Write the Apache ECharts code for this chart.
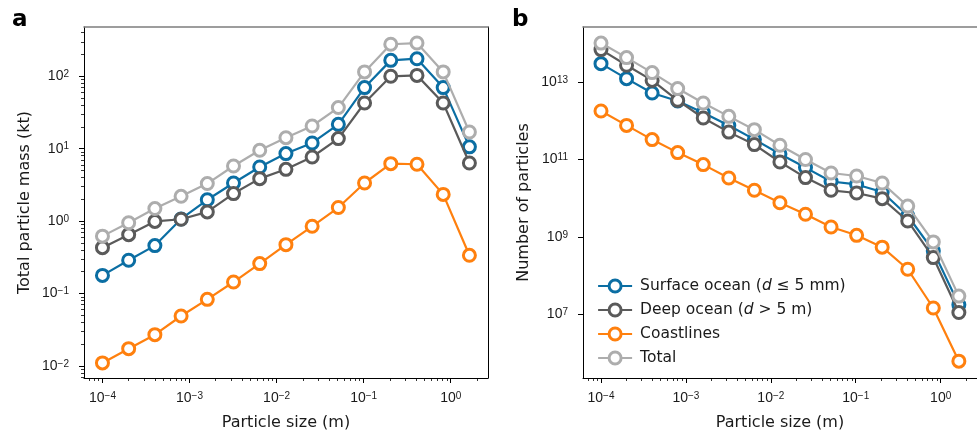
<!DOCTYPE html>
<html><head><meta charset="utf-8">
<script src="https://cdn.jsdelivr.net/npm/echarts@6/dist/echarts.min.js"></script>
<style>html,body{margin:0;padding:0;background:#fff}#c{width:977px;height:436px}</style>
</head><body><div id="c"></div>
<script>
// ---- data ----
const sizes = [1e-4, 2e-4, 4e-4, 8e-4, 1.6e-3, 3.2e-3, 6.4e-3, 1.28e-2, 2.56e-2, 5.12e-2, 0.1024, 0.2048, 0.4096, 0.8192, 1.6384];
const seriesNames = ['Surface ocean (d ≤ 5 mm)', 'Deep ocean (d > 5 m)', 'Coastlines', 'Total'];
const seriesColors = ['#0b6ea3', '#5a5a5a', '#ff800e', '#adadad'];

const massSurface = [0.178, 0.288, 0.459, 1.07, 1.97, 3.36, 5.59, 8.56, 12.0, 21.7, 69.8, 166, 175, 69.8, 10.6];
const massDeep    = [0.43, 0.65, 0.99, 1.06, 1.34, 2.4, 3.86, 5.19, 7.68, 13.8, 42.8, 100, 103, 42.8, 6.35];
const massCoast   = [0.011, 0.0173, 0.027, 0.0489, 0.083, 0.144, 0.259, 0.473, 0.848, 1.54, 3.36, 6.22, 6.1, 2.34, 0.337];
const massTotal   = [0.62, 0.95, 1.49, 2.2, 3.3, 5.77, 9.5, 14.2, 20.6, 37, 115, 277, 288, 115, 17];

const countSurface = [2.98e13, 1.22e13, 5.2e12, 3.25e12, 1.62e12, 7.57e11, 3.31e11, 1.39e11, 6.2e10, 2.71e10, 2.28e10, 1.45e10, 3.55e9, 4.4e8, 1.8e7];
const countDeep    = [6.85e13, 2.7e13, 1.1e13, 3.37e12, 1.18e12, 5.1e11, 2.43e11, 8.65e10, 3.42e10, 1.61e10, 1.37e10, 9.8e9, 2.6e9, 2.96e8, 1.13e7];
const countCoast   = [1.79e12, 7.6e11, 3.27e11, 1.51e11, 7.4e10, 3.34e10, 1.61e10, 7.7e9, 3.87e9, 1.82e9, 1.11e9, 5.5e8, 1.48e8, 1.48e7, 6.3e5];
const countTotal   = [1.01e14, 4.26e13, 1.75e13, 6.77e12, 2.87e12, 1.30e12, 5.9e11, 2.33e11, 1.0e11, 4.5e10, 3.76e10, 2.48e10, 6.3e9, 7.5e8, 3.0e7];

// tick exponents (labels are 10^exp)
const xTickExp = [-4, -3, -2, -1, 0];
const massTickExp = [-2, -1, 0, 1, 2];
const countTickExp = [7, 9, 11, 13];

// ---- axis extents (log10 space) ----
const xMin = -4.212, xMax = 0.428;
const massMin = -2.167, massMax = 2.681;
const countMin = 5.365, countMax = 14.419;

const lg = Math.log10;
function minorTicks(lo, hi) {
  const out = [];
  for (let n = Math.floor(lo) - 1; n <= Math.ceil(hi); n++) {
    for (let k = 2; k <= 9; k++) {
      const v = n + lg(k);
      if (v >= lo && v <= hi) out.push(v);
    }
  }
  return out;
}
const TXT = '#1a1a1a';
const tickFont = 'Liberation Sans';
const textFont = 'DejaVu Sans';
const expRich = {
  b: { fontSize: 14, fontFamily: tickFont, color: TXT },
  s: { fontSize: 10, fontFamily: tickFont, color: TXT, verticalAlign: 'top' }
};
function expFmt(v) {
  const e = Math.round(v);
  return '{b|10}{s|' + (e < 0 ? '\u2212' + (-e) : e) + '}';
}

const grids = [
  { left: 84, top: 27, width: 404, height: 351 },
  { left: 583, top: 27, width: 404, height: 351 }
];

const xAxes = [], yAxes = [];
function addAxes(gi, yMin, yMax, yTicks, yMinor, yName) {
  xAxes.push({
    gridIndex: gi, type: 'value', min: xMin, max: xMax, position: 'bottom',
    axisLine: { show: true, onZero: false, lineStyle: { color: '#000', width: 1 } },
    axisTick: { show: true, customValues: xTickExp, length: 5, lineStyle: { color: '#000', width: 1 } },
    axisLabel: { customValues: xTickExp, formatter: expFmt, rich: expRich, margin: 13 },
    splitLine: { show: false },
    name: 'Particle size (m)', nameLocation: 'middle', nameGap: 37,
    nameTextStyle: { fontSize: 16, fontFamily: textFont, color: TXT }
  });
  xAxes.push({
    gridIndex: gi, type: 'value', min: xMin, max: xMax, position: 'bottom',
    axisLine: { show: false, onZero: false },
    axisTick: { show: true, customValues: minorTicks(xMin, xMax), length: 3, lineStyle: { color: '#000', width: 0.8 } },
    axisLabel: { show: false }, splitLine: { show: false }
  });
  xAxes.push({
    gridIndex: gi, type: 'value', min: xMin, max: xMax, position: 'top',
    axisLine: { show: true, onZero: false, lineStyle: { color: '#7d7d7d', width: 1.6 } },
    axisTick: { show: false }, axisLabel: { show: false }, splitLine: { show: false }
  });
  yAxes.push({
    gridIndex: gi, type: 'value', min: yMin, max: yMax, position: 'left',
    axisLine: { show: true, onZero: false, lineStyle: { color: '#000', width: 1 } },
    axisTick: { show: true, customValues: yTicks, length: 5, lineStyle: { color: '#000', width: 1 } },
    axisLabel: { customValues: yTicks, formatter: expFmt, rich: expRich, margin: 15 },
    splitLine: { show: false },
    name: yName, nameLocation: 'middle', nameGap: 51,
    nameTextStyle: { fontSize: 16, fontFamily: textFont, color: TXT }
  });
  yAxes.push({
    gridIndex: gi, type: 'value', min: yMin, max: yMax, position: 'left',
    axisLine: { show: false, onZero: false },
    axisTick: { show: yMinor.length > 0, customValues: yMinor.length ? yMinor : [yMin], length: 3, lineStyle: { color: '#000', width: 0.8 } },
    axisLabel: { show: false }, splitLine: { show: false }
  });
  yAxes.push({
    gridIndex: gi, type: 'value', min: yMin, max: yMax, position: 'right',
    axisLine: { show: true, onZero: false, lineStyle: { color: '#000', width: 1 } },
    axisTick: { show: false }, axisLabel: { show: false }, splitLine: { show: false }
  });
}
addAxes(0, massMin, massMax, massTickExp, minorTicks(massMin, massMax), 'Total particle mass (kt)');
addAxes(1, countMin, countMax, countTickExp, [], 'Number of particles');

const panelData = [
  [massSurface, massDeep, massCoast, massTotal],
  [countSurface, countDeep, countCoast, countTotal]
];
const series = [];
panelData.forEach((arrs, p) => {
  arrs.forEach((vals, i) => {
    series.push({
      type: 'line', name: seriesNames[i],
      xAxisIndex: p * 3, yAxisIndex: p * 3,
      data: sizes.map((s, j) => [lg(s), lg(vals[j])]),
      symbol: 'circle', symbolSize: 12,
      itemStyle: { color: '#ffffff', borderColor: seriesColors[i], borderWidth: 3 },
      lineStyle: { color: seriesColors[i], width: 2.2 },
      z: 2 + i, animation: false, silent: true
    });
  });
});

const chart = echarts.init(document.getElementById('c'), null, { renderer: 'canvas' });
chart.setOption({
  backgroundColor: '#fff',
  animation: false,
  grid: grids,
  xAxis: xAxes,
  yAxis: yAxes,
  series: series,
  legend: {
    data: seriesNames,
    orient: 'vertical', left: 597, top: 278,
    itemWidth: 34, itemHeight: 15, itemGap: 8, padding: 0,
    selectedMode: false,
    itemStyle: { borderWidth: 3 },
    lineStyle: { width: 2.2 },
    formatter: function (n) { return n.replace('(d ', '({i|d} '); },
    textStyle: {
      fontSize: 15.5, fontFamily: textFont, color: TXT, padding: [0, 0, 0, 3],
      rich: { i: { fontSize: 15.5, fontFamily: textFont, fontStyle: 'italic', color: TXT } }
    }
  },
  graphic: [
    { type: 'text', left: 12, top: 9, style: { text: 'a', font: 'bold 23px "DejaVu Sans"', fill: '#000' } },
    { type: 'text', left: 512, top: 9, style: { text: 'b', font: 'bold 23px "DejaVu Sans"', fill: '#000' } }
  ]
});
</script>
</body></html>
